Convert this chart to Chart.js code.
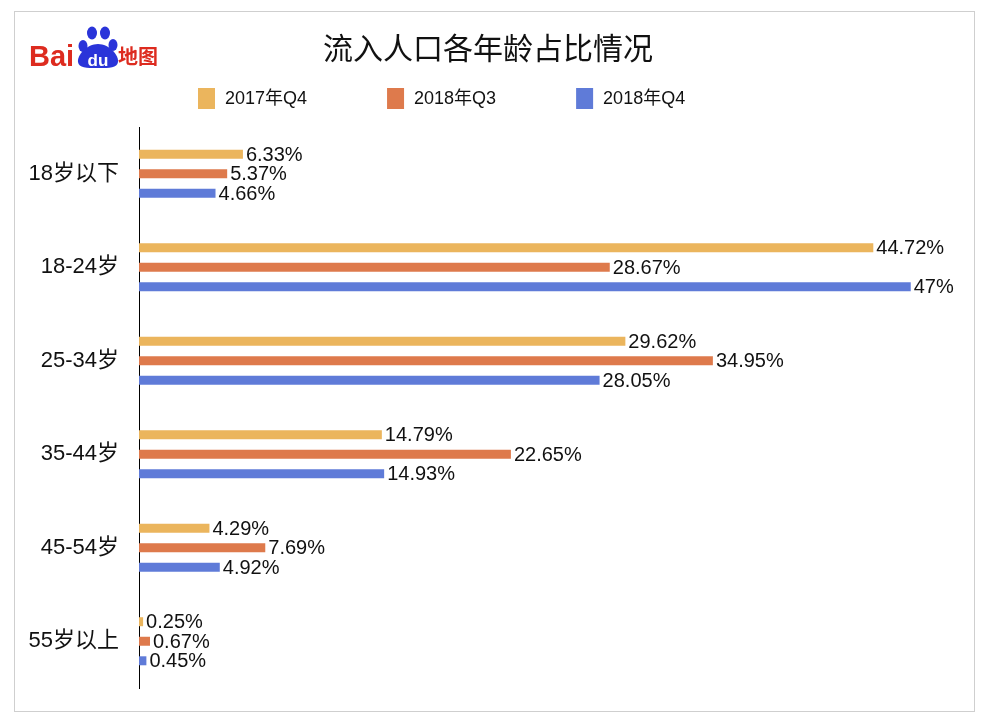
<!DOCTYPE html>
<html>
<head>
<meta charset="utf-8">
<title>流入人口各年龄占比情况</title>
<script src="https://cdn.jsdelivr.net/npm/chart.js@4/dist/chart.umd.min.js"></script>
<style>
  html, body { margin: 0; padding: 0; background: #fff; }
  #wrap { position: relative; width: 988px; height: 728px; }
  #frame {
    position: absolute; left: 14px; top: 11px;
    width: 961px; height: 701px; box-sizing: border-box;
    border: 1px solid #cfcfcf;
  }
  #logo { position: absolute; left: 0; top: 0; }
  canvas { position: absolute; left: 0; top: 0; }
</style>
</head>
<body>
<div id="wrap">
  <div id="frame"></div>
  <canvas id="ageChart" width="988" height="728"></canvas>
  <svg id="logo" width="200" height="90">
    <text x="29" y="66" font-family="'Liberation Sans', Arial, sans-serif" font-weight="bold" font-size="29" fill="#dd2b1f">Bai</text>
    <ellipse cx="83" cy="46" rx="4.5" ry="6" fill="#2a34d9" />
    <ellipse cx="92" cy="33" rx="5" ry="6.5" fill="#2a34d9" />
    <ellipse cx="105" cy="33" rx="5" ry="6.5" fill="#2a34d9" />
    <ellipse cx="113" cy="45" rx="4.5" ry="6" fill="#2a34d9" />
    <path d="M98 44 C109 44 119 55 118 62 C117 68 110 68 98 68 C86 68 79 68 78 62 C77 55 87 44 98 44 Z" fill="#2a34d9" />
    <text x="98" y="66" text-anchor="middle" font-family="'Liberation Sans', Arial, sans-serif" font-weight="bold" font-size="17" fill="#fff">du</text>
    <text x="118" y="64" font-family="'Noto Sans CJK SC', sans-serif" font-weight="bold" font-size="20" fill="#dd2b1f">地图</text>
  </svg>
</div>
<script>
// ---- data ----
const categories = ["18岁以下", "18-24岁", "25-34岁", "35-44岁", "45-54岁", "55岁以上"];
const seriesNames = ["2017年Q4", "2018年Q3", "2018年Q4"];
const q4of2017 = [6.33, 44.72, 29.62, 14.79, 4.29, 0.25];
const q3of2018 = [5.37, 28.67, 34.95, 22.65, 7.69, 0.67];
const q4of2018 = [4.66, 47, 28.05, 14.93, 4.92, 0.45];
const titleText = "流入人口各年龄占比情况";

const colors = ["#ebb55d", "#de7a4c", "#5f7bd8"];
const FONT = "'Liberation Sans', 'Noto Sans CJK SC', Arial, sans-serif";

// 棒の右端に値を書く
const valueLabels = {
  id: "valueLabels",
  afterDatasetsDraw(chart) {
    const ctx = chart.ctx;
    ctx.save();
    ctx.font = "20px " + FONT;
    ctx.fillStyle = "#111";
    ctx.textAlign = "left";
    ctx.textBaseline = "middle";
    chart.data.datasets.forEach((ds, di) => {
      chart.getDatasetMeta(di).data.forEach((bar, i) => {
        ctx.fillText(ds.data[i] + "%", bar.x + 3, bar.y + 1);
      });
    });
    ctx.restore();
  }
};

// タイトルと凡例
const header = {
  id: "header",
  afterDraw(chart) {
    const ctx = chart.ctx;
    ctx.save();
    ctx.fillStyle = "#111";
    ctx.font = "30px " + FONT;
    ctx.textAlign = "center";
    ctx.textBaseline = "middle";
    ctx.fillText(titleText, 488, 51);

    ctx.font = "18px " + FONT;
    ctx.textAlign = "left";
    let x = 198;
    chart.data.datasets.forEach(ds => {
      ctx.fillStyle = ds.backgroundColor;
      ctx.fillRect(x, 88, 17, 21);
      ctx.fillStyle = "#111";
      ctx.fillText(ds.label, x + 27, 99);
      x += 27 + ctx.measureText(ds.label).width + 80;
    });
    ctx.restore();
  }
};

const datasets = [q4of2017, q3of2018, q4of2018].map((values, i) => ({
  label: seriesNames[i],
  data: values,
  backgroundColor: colors[i],
  categoryPercentage: 0.627,
  barPercentage: 0.46
}));

new Chart(document.getElementById("ageChart"), {
  type: "bar",
  data: { labels: categories, datasets },
  options: {
    responsive: false,
    animation: false,
    indexAxis: "y",
    layout: { padding: { top: 127, right: 28, bottom: 40, left: 0 } },
    plugins: {
      legend: { display: false },
      title: { display: false },
      tooltip: { enabled: false }
    },
    scales: {
      x: { display: false, min: 0, max: 50 },
      y: {
        afterFit(scale) { scale.width = 139; },
        grid: { drawOnChartArea: false, drawTicks: false },
        border: { display: true, color: "#000", width: 1 },
        ticks: {
          padding: 20,
          color: "#111",
          font: { size: 22, family: FONT }
        }
      }
    }
  },
  plugins: [valueLabels, header]
});
</script>
</body>
</html>
